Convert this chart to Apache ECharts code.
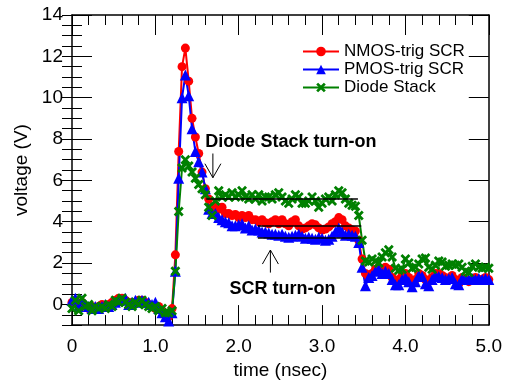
<!DOCTYPE html>
<html>
<head>
<meta charset="utf-8">
<script src="https://cdn.jsdelivr.net/npm/echarts@6/dist/echarts.min.js"></script>
<style>
  html, body { margin: 0; padding: 0; background: #fff; }
  #chart { width: 505px; height: 385px; }
</style>
</head>
<body>
<div id="chart"></div>
<script>
// sample times (nsec)
const time = [
  0, 0.04, 0.08, 0.12, 0.16, 0.2, 0.24, 0.28, 0.32, 0.36,
  0.4, 0.44, 0.48, 0.52, 0.56, 0.6, 0.64, 0.68, 0.72, 0.76,
  0.8, 0.84, 0.88, 0.92, 0.96, 1, 1.04, 1.08, 1.12, 1.16,
  1.2, 1.24, 1.28, 1.32, 1.36, 1.4, 1.44, 1.48, 1.52, 1.56,
  1.6, 1.64, 1.68, 1.72, 1.76, 1.8, 1.84, 1.88, 1.92, 1.96,
  2, 2.04, 2.08, 2.12, 2.16, 2.2, 2.24, 2.28, 2.32, 2.36,
  2.4, 2.44, 2.48, 2.52, 2.56, 2.6, 2.64, 2.68, 2.72, 2.76,
  2.8, 2.84, 2.88, 2.92, 2.96, 3, 3.04, 3.08, 3.12, 3.16,
  3.2, 3.24, 3.28, 3.32, 3.36, 3.4, 3.44, 3.48, 3.52, 3.56,
  3.6, 3.64, 3.68, 3.72, 3.76, 3.8, 3.84, 3.88, 3.92, 3.96,
  4, 4.04, 4.08, 4.12, 4.16, 4.2, 4.24, 4.28, 4.32, 4.36,
  4.4, 4.44, 4.48, 4.52, 4.56, 4.6, 4.64, 4.68, 4.72, 4.76,
  4.8, 4.84, 4.88, 4.92, 4.96, 5
];

const nmos = [
  0.1, 0.2, 0.0, 0.1, -0.1, -0.2, -0.1, -0.2, -0.1, 0.0,
  -0.1, 0.0, 0.1, 0.2, 0.3, 0.3, 0.2, 0.1, 0.0, 0.1,
  0.2, 0.2, 0.1, 0.0, -0.1, -0.2, -0.1, -0.3, -0.5, -0.6,
  -0.2, 2.4, 7.4, 11.5, 12.4, 10.8, 9.0, 8.1, 7.3, 6.4,
  5.6, 5.1, 4.7, 4.8, 4.6, 4.7, 4.4, 4.4, 4.3, 4.35,
  4.2, 4.3, 4.2, 4.3, 4.1, 4.1, 4.0, 4.1, 3.95, 3.9,
  4.0, 4.1, 3.9, 4.1, 3.9, 3.8, 4.0, 4.1, 3.8, 3.65,
  3.7, 3.8, 3.9, 3.85, 3.7, 3.6, 3.65, 3.75, 3.9, 4.0,
  4.2, 4.1, 3.8, 3.7, 3.6, 3.55, 3.1, 2.2, 1.5, 1.3,
  1.5, 1.7, 1.8, 1.6, 1.8, 1.7, 1.3, 1.1, 1.2, 1.4,
  1.5, 1.3, 1.1, 1.2, 1.5, 1.4, 1.2, 1.1, 1.3, 1.5,
  1.5, 1.4, 1.3, 1.2, 1.4, 1.2, 1.0, 1.3, 1.2, 1.1,
  1.2, 1.3, 1.2, 1.2, 1.3, 1.2
];

const pmos = [
  0.2, 0.3, -0.1, 0.2, 0.0, -0.1, -0.2, -0.1, -0.2, -0.1,
  0.0, -0.1, 0.0, 0.1, 0.2, 0.2, 0.3, 0.0, 0.1, 0.2,
  0.1, 0.2, 0.1, 0.1, 0.0, 0.1, -0.2, -0.4, -0.6, -0.8,
  -0.4, 1.6, 6.1, 10.0, 11.1, 10.1, 8.5, 7.4, 6.9, 6.4,
  5.6, 4.6, 4.4, 4.4, 4.2, 4.1, 4.0, 3.95, 3.8, 3.8,
  3.85, 3.9, 3.7, 3.8, 3.6, 3.65, 3.6, 3.5, 3.5, 3.45,
  3.4, 3.4, 3.35, 3.4, 3.3, 3.25, 3.3, 3.35, 3.4, 3.3,
  3.2, 3.25, 3.2, 3.15, 3.25, 3.2, 3.1, 3.15, 3.3, 3.5,
  3.7, 3.5, 3.35, 3.4, 3.35, 3.3, 3.0, 1.8, 0.9, 1.3,
  1.4, 1.6, 1.7, 1.5, 1.6, 1.5, 1.2, 0.95, 0.95, 1.2,
  1.3, 1.1, 0.85, 1.1, 1.4, 1.35, 1.0, 0.9, 1.2, 1.4,
  1.35, 1.3, 1.2, 1.25, 1.3, 1.0, 0.95, 1.25, 1.2, 1.2,
  1.25, 1.2, 1.25, 1.2, 1.25, 1.2
];

const diode = [
  -0.2, 0.2, -0.3, 0.3, -0.1, 0.0, -0.3, -0.1, -0.2, -0.1,
  -0.2, 0.0, -0.1, 0.2, 0.1, 0.3, 0.1, 0.0, -0.1, 0.1,
  0.0, 0.2, 0.0, -0.1, -0.2, -0.1, -0.3, -0.2, -0.4, -0.4,
  -0.3, 1.6, 4.5, 6.6, 7.0, 6.7, 6.4, 6.1, 5.8, 5.6,
  5.3, 4.7, 4.3, 5.0, 5.5, 5.2, 5.3, 5.2, 5.4, 5.2,
  5.3, 5.5, 5.2, 5.1, 5.3, 5.1, 5.3, 5.0, 5.2, 5.2,
  5.1, 5.3, 5.4, 5.2, 5.0, 4.9, 5.1, 5.3, 5.2, 4.9,
  4.9, 5.0, 5.2, 5.0, 4.7, 4.9, 5.1, 5.2, 5.0, 5.3,
  5.5, 5.4, 5.1, 4.9, 4.8, 4.75, 4.3, 3.1, 2.1, 2.05,
  2.2, 2.1, 2.0, 2.3, 2.5, 2.65, 2.3, 1.75, 1.65, 1.7,
  2.2, 2.0, 1.75, 1.8, 1.95, 2.2, 2.25, 1.8, 1.7, 1.9,
  2.1, 2.05, 1.85, 1.9, 1.95, 1.9, 1.95, 1.8, 1.6, 1.55,
  1.85, 1.95, 1.8, 1.75, 1.8, 1.75
];

const seriesNames = ['NMOS-trig SCR', 'PMOS-trig SCR', 'Diode Stack'];
const majorY = [0, 2, 4, 6, 8, 10, 12, 14];

// black level lines: [t start, t end, voltage]
const levels = [[1.61, 3.43, 5.1], [2.23, 3.47, 3.82], [2.23, 3.47, 3.23]];
// annotations: text anchor and arrow (tip, tail) in data units
const notes = [
  { text: 'Diode Stack turn-on', at: [1.60, 7.86] },
  { text: 'SCR turn-on', at: [1.89, 0.73] }
];
const arrows = [
  { tip: [1.69, 6.13], tail: [1.69, 7.3] },
  { tip: [2.38, 2.63], tail: [2.38, 1.54] }
];

const FONT = 'Liberation Sans, Arial, sans-serif';
const crossPath = 'path://M0,2 L2,0 L5,3 L8,0 L10,2 L7,5 L10,8 L8,10 L5,7 L2,10 L0,8 L3,5 Z';

const pairs = vals => time.map((t, i) => [t, vals[i]]);

const chart = echarts.init(document.getElementById('chart'));

const xCommon = {
  type: 'value', min: 0, max: 5, interval: 1,
  splitLine: { show: false },
  axisLine: { show: true, onZero: false, lineStyle: { color: '#000', width: 1.5 } },
  axisTick: { show: true, inside: true, length: 20, lineStyle: { color: '#000', width: 1 } },
  minorTick: { show: true, splitNumber: 5, length: 10, lineStyle: { color: '#000', width: 1 } }
};
const yLong = {
  type: 'value', min: -1, max: 14,
  splitLine: { show: false },
  axisLine: { show: true, onZero: false, lineStyle: { color: '#000', width: 1.5 } },
  axisTick: { show: true, inside: true, length: 20, customValues: majorY, lineStyle: { color: '#000', width: 1 } }
};
const yShort = {
  type: 'value', min: -1, max: 14, interval: 0.5,
  splitLine: { show: false },
  axisLine: { show: false },
  axisLabel: { show: false },
  axisTick: { show: true, inside: true, length: 10, lineStyle: { color: '#000', width: 1 } }
};

chart.setOption({
  animation: false,
  backgroundColor: '#fff',
  textStyle: { fontFamily: FONT },
  grid: { left: 72, right: 16, top: 15, bottom: 49 },
  legend: {
    data: seriesNames,
    orient: 'vertical',
    left: 297, top: 38,
    itemWidth: 36, itemHeight: 12, itemGap: 1,
    textStyle: { fontSize: 17, color: '#000', fontFamily: FONT, lineHeight: 17 }
  },
  xAxis: [
    Object.assign({}, xCommon, {
      position: 'bottom',
      name: 'time (nsec)', nameLocation: 'middle', nameGap: 34,
      nameTextStyle: { fontSize: 19, color: '#000', fontFamily: FONT },
      axisLabel: { fontSize: 19, color: '#000', margin: 12, fontFamily: FONT,
        formatter: v => (v === 0 ? '0' : v.toFixed(1)) }
    }),
    Object.assign({}, xCommon, { position: 'top', axisLabel: { show: false } })
  ],
  yAxis: [
    Object.assign({}, yLong, {
      position: 'left',
      name: 'voltage (V)', nameLocation: 'middle', nameGap: 40, nameRotate: 90,
      nameTextStyle: { fontSize: 19, color: '#000', fontFamily: FONT },
      axisLabel: { fontSize: 19, color: '#000', margin: 9, fontFamily: FONT, customValues: majorY }
    }),
    Object.assign({}, yShort, { position: 'left' }),
    Object.assign({}, yLong, { position: 'right', axisLabel: { show: false } }),
    Object.assign({}, yShort, { position: 'right' })
  ],
  series: [
    {
      name: seriesNames[0], type: 'line', data: pairs(nmos),
      symbol: 'circle', symbolSize: 9,
      lineStyle: { color: '#ff0000', width: 2 }, itemStyle: { color: '#ff0000' }
    },
    {
      name: seriesNames[1], type: 'line', data: pairs(pmos),
      symbol: 'triangle', symbolSize: 11,
      lineStyle: { color: '#0000ff', width: 2 }, itemStyle: { color: '#0000ff' }
    },
    {
      name: seriesNames[2], type: 'line', data: pairs(diode),
      symbol: crossPath, symbolSize: 10,
      lineStyle: { color: '#008000', width: 2 }, itemStyle: { color: '#008000' }
    },
    {
      name: 'levels', type: 'line', data: [],
      markLine: {
        silent: true, symbol: ['none', 'none'],
        label: { show: false },
        lineStyle: { color: '#000', width: 1.5, type: 'solid' },
        data: levels.map(l => [{ coord: [l[0], l[2]] }, { coord: [l[1], l[2]] }])
      }
    }
  ]
});

// annotation text and open arrows, placed through the axes
const px = p => chart.convertToPixel({ xAxisIndex: 0, yAxisIndex: 0 }, p);
const graphic = [];
notes.forEach(n => {
  const p = px(n.at);
  graphic.push({
    type: 'text', x: p[0], y: p[1],
    style: { text: n.text, fill: '#000', font: 'bold 18px ' + FONT, textVerticalAlign: 'middle' }
  });
});
arrows.forEach(a => {
  const tip = px(a.tip), tail = px(a.tail);
  const dir = Math.sign(tail[1] - tip[1]);
  graphic.push({ type: 'line', shape: { x1: tail[0], y1: tail[1], x2: tip[0], y2: tip[1] }, style: { stroke: '#000', lineWidth: 1 } });
  graphic.push({
    type: 'polyline',
    shape: { points: [[tip[0] - 8, tip[1] + dir * 14], [tip[0], tip[1]], [tip[0] + 8, tip[1] + dir * 14]] },
    style: { stroke: '#000', lineWidth: 1, fill: null }
  });
});
chart.setOption({ graphic: graphic });
</script>
</body>
</html>
